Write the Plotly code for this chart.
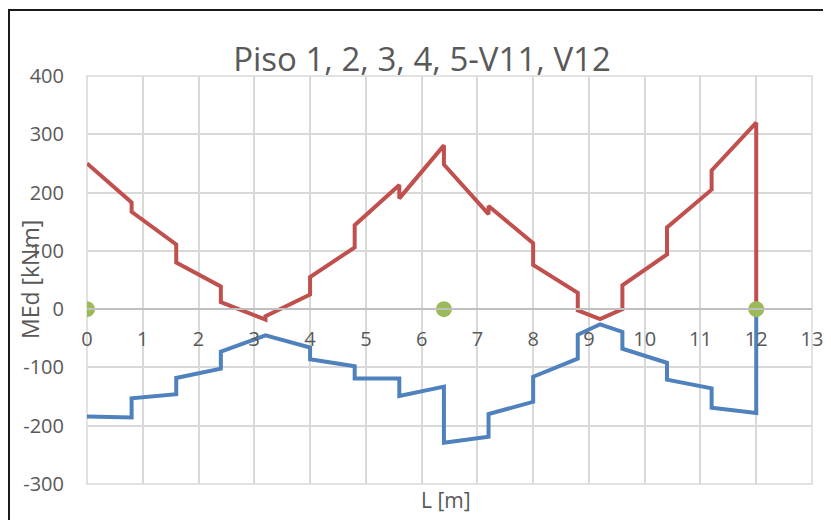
import plotly.graph_objects as go

# Envolvente de momentos (kNm) a lo largo de la viga L (m)
x_pos = [0, 0.8, 0.8, 1.6, 1.6, 2.4, 2.4, 3.2, 3.2, 4.0, 4.0, 4.8, 4.8, 5.6, 5.6,
         6.4, 6.4, 7.2, 7.2, 8.0, 8.0, 8.8, 8.8, 9.2, 9.6, 9.6, 10.4, 10.4,
         11.2, 11.2, 12.0, 12.0]
m_pos = [250, 183, 167, 111, 80, 39, 12, -18, -12, 25, 55, 106, 144, 213, 190,
         281, 248, 163, 177, 113, 76, 28, -2, -17, 0, 41, 94, 140,
         205, 238, 320, 0]

x_neg = [0, 0.8, 0.8, 1.6, 1.6, 2.4, 2.4, 3.2, 4.0, 4.0, 4.8, 4.8, 5.6, 5.6,
         6.4, 6.4, 7.2, 7.2, 8.0, 8.0, 8.8, 8.8, 9.2, 9.6, 9.6, 10.4, 10.4,
         11.2, 11.2, 12.0, 12.0]
m_neg = [-184, -186, -153, -146, -118, -102, -73, -45, -66, -86, -98, -119, -119, -149,
         -133, -229, -219, -180, -159, -116, -85, -44, -26, -39, -68, -92, -121,
         -136, -169, -178, 0]

x_apoyos = [0, 6.4, 12]
m_apoyos = [0, 0, 0]

x_ticks = list(range(0, 14))
y_ticks = list(range(-300, 401, 100))
y_labels = [str(v) for v in y_ticks]  # guion normal, como en Excel

grey = "#595959"
font = "Open Sans, Noto Sans, sans-serif"

fig = go.Figure()
fig.add_trace(go.Scatter(x=x_pos, y=m_pos, mode="lines",
                         line=dict(color="#c0504d", width=4)))
fig.add_trace(go.Scatter(x=x_neg, y=m_neg, mode="lines",
                         line=dict(color="#4f81bd", width=4)))
fig.add_trace(go.Scatter(x=x_apoyos, y=m_apoyos, mode="markers",
                         marker=dict(color="#9bbb59", size=16)))

# la página deja 8 px de margen, por eso la figura mide 823x512
fig.update_layout(
    width=823, height=512,
    margin=dict(l=79, r=19, t=68, b=36, autoexpand=False),
    paper_bgcolor="white", plot_bgcolor="white",
    showlegend=False,
    font=dict(family=font, color=grey, size=20),
    title=dict(text="Piso 1, 2, 3, 4, 5-V11, V12", x=0.503, xanchor="center",
               y=0.9, yanchor="middle", font=dict(size=33, color=grey)),
    shapes=[dict(type="rect", xref="paper", yref="paper",
                 x0=-0.1076, x1=1.2, y0=-0.5, y1=1.162,
                 line=dict(color="#1a1a1a", width=2), layer="below")],
    annotations=[
        dict(text="L [m]", xref="paper", yref="paper", x=0.495, y=-0.039,
             xanchor="center", yanchor="middle", showarrow=False,
             font=dict(size=21, color=grey)),
        dict(text="MEd [kNm]", xref="paper", yref="paper", x=-0.0786, y=0.5,
             xanchor="center", yanchor="middle", textangle=-90, showarrow=False,
             font=dict(size=23, color=grey)),
    ],
)
fig.update_xaxes(
    range=[0, 13], tickvals=x_ticks, showgrid=True, gridcolor="#d9d9d9", gridwidth=1.5,
    anchor="free", position=3 / 7, showline=True, linecolor="#bfbfbf", linewidth=1.5,
    zeroline=False, ticks="", ticklabelstandoff=12, automargin=False,
    tickfont=dict(size=20, color=grey),
)
fig.update_yaxes(
    range=[-300, 400], tickvals=y_ticks, ticktext=y_labels, showgrid=True,
    gridcolor="#d9d9d9", gridwidth=1.5,
    zeroline=False, showline=False, ticks="", ticklabelstandoff=22, automargin=False,
    tickfont=dict(size=20, color=grey),
)
# borde del área de trazado
fig.add_shape(type="rect", xref="paper", yref="paper", x0=0, x1=1, y0=0, y1=1,
              line=dict(color="#d9d9d9", width=1.5), layer="below")

fig.write_html("out.html")
